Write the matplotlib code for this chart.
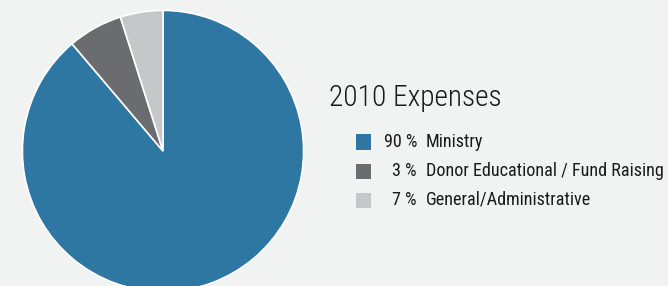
import matplotlib.pyplot as plt
from matplotlib.patches import Rectangle
from matplotlib import font_manager

# data (slice sizes as drawn, labels as printed)
labels = ['Ministry', 'Donor Educational / Fund Raising', 'General/Administrative']
pct_text = ['90 %', '3 %', '7 %']
sizes = [88.8, 6.3, 4.9]
colors = ['#2e77a3', '#6b6c70', '#c6c7c9']
title = '2010 Expenses'

# pick a narrow face if one is installed
fonts = font_manager.fontManager.ttflist
names = {f.name for f in fonts}
stretch = 'normal'
fam = 'DejaVu Sans'
for cand in ['Roboto Condensed', 'Liberation Sans Narrow', 'Open Sans Condensed']:
    if cand in names:
        fam = cand
        break
else:
    if any(f.name == 'DejaVu Sans' and f.stretch == 'condensed' for f in fonts):
        stretch = 'condensed'
plt.rcParams['font.family'] = [fam, 'DejaVu Sans']
plt.rcParams['font.stretch'] = stretch

W, H = 668, 286
bg = '#f1f2f2'
fig = plt.figure(figsize=(W / 100, H / 100), dpi=100, facecolor=bg)
renderer = fig.canvas.get_renderer()

# pie: center (163,151) px from top-left, radius 142
cx, cy, r = 163, 151, 142
ax = fig.add_axes([(cx - r) / W, (H - cy - r) / H, 2 * r / W, 2 * r / H])
ax.pie(sizes, colors=colors, startangle=90, counterclock=False, radius=1,
       wedgeprops=dict(edgecolor='white', linewidth=1.2))
ax.set_xlim(-1.01, 1.01)
ax.set_ylim(-1.01, 1.01)
ax.set_aspect('equal')
ax.axis('off')

def fx(px):
    return px / W

def fy(py):
    return 1 - py / H

def fit(t, target_px, max_size):
    # shrink a text until it is no wider than target_px
    t.set_fontsize(max_size)
    w = t.get_window_extent(renderer).width
    if w > target_px:
        t.set_fontsize(max_size * target_px / w)
    return t.get_fontsize()

tt = fig.text(fx(329), fy(98), title, color='#1a1a1a', va='center', ha='left',
              fontweight='light')
fit(tt, 173, 24)

row_y = [142, 171, 200]
lab_texts = []
pct_texts = []
for i in range(len(labels)):
    y = row_y[i]
    fig.add_artist(Rectangle((fx(356), fy(y + 7.5)), 15 / W, 15 / H,
                             transform=fig.transFigure, facecolor=colors[i],
                             edgecolor='none'))
    pct_texts.append(fig.text(fx(417), fy(y), pct_text[i], color='#1a1a1a',
                              va='center', ha='right'))
    lab_texts.append(fig.text(fx(426), fy(y), labels[i], color='#1a1a1a',
                              va='center', ha='left'))

size = fit(lab_texts[1], 239, 14)
for t in lab_texts + pct_texts:
    t.set_fontsize(size)

fig.savefig('out.png', dpi=100, facecolor=bg)
